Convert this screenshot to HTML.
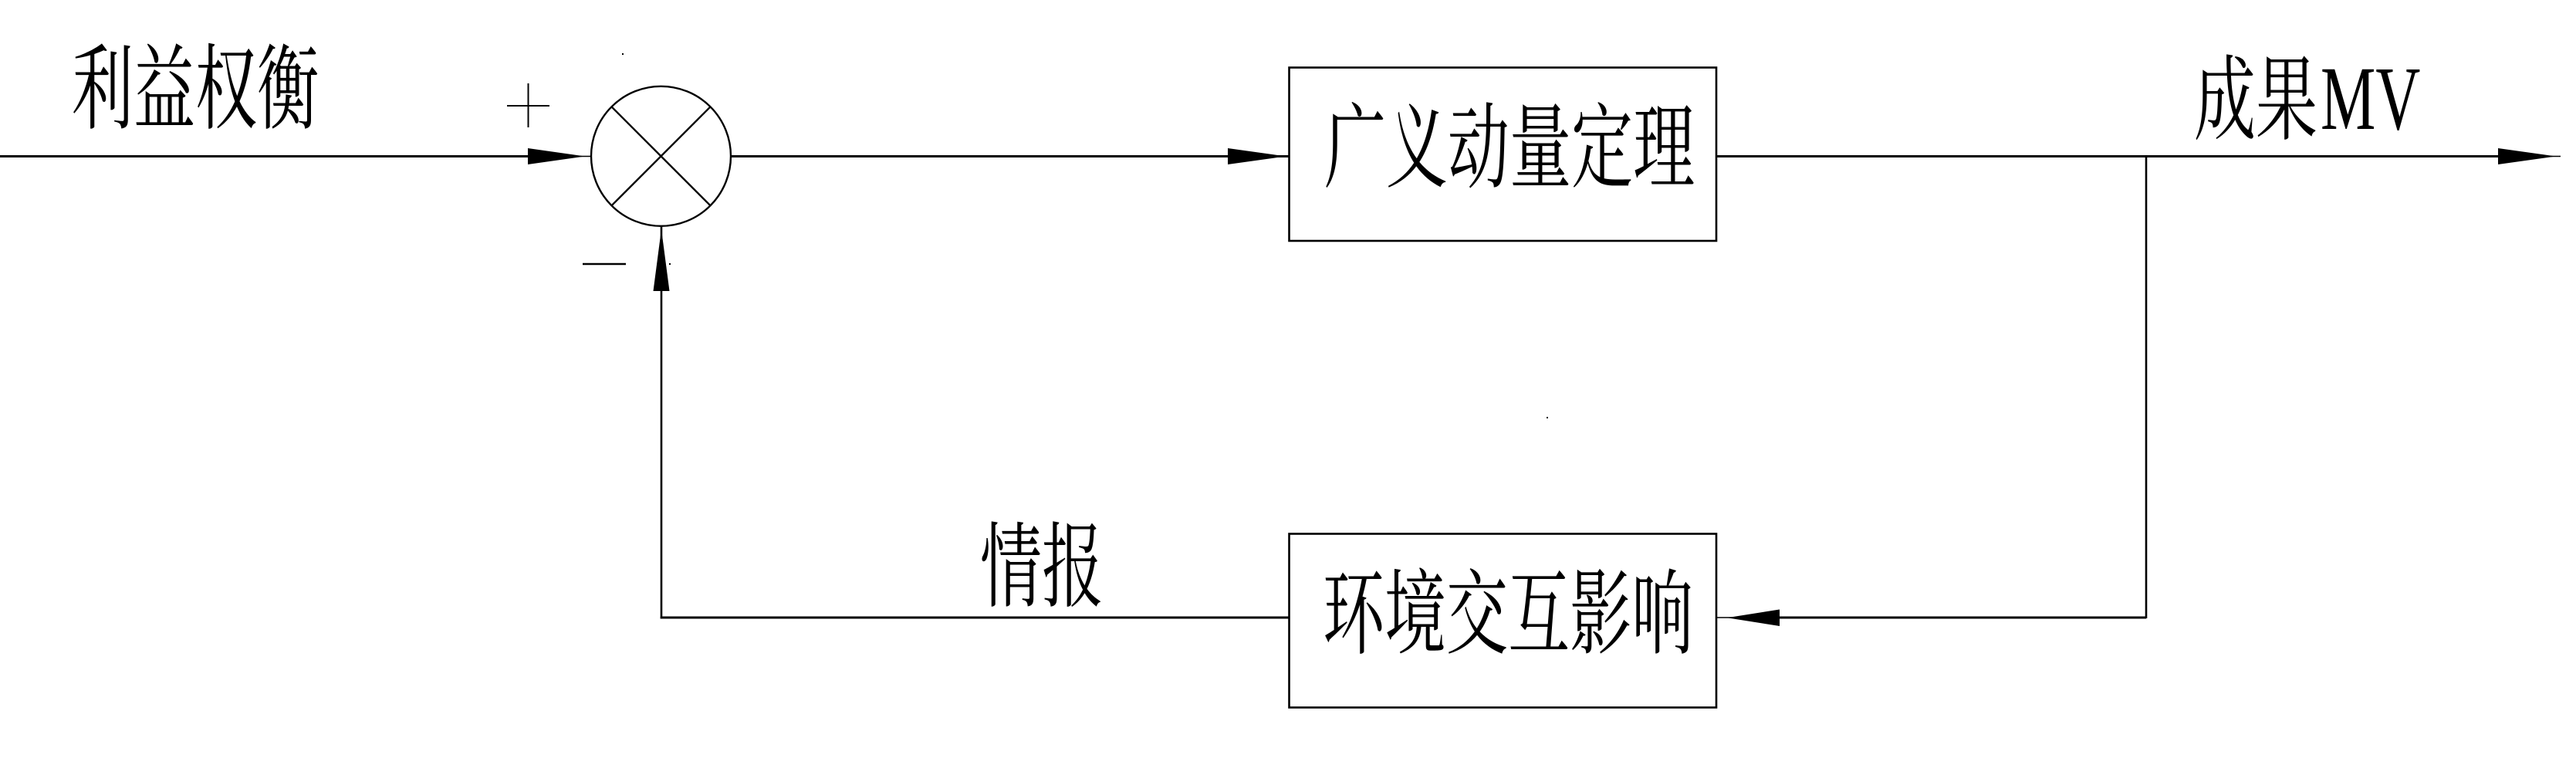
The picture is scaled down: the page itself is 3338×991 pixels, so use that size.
<!DOCTYPE html>
<html>
<head>
<meta charset="utf-8">
<style>
  html, body { margin: 0; padding: 0; background: #fff; }
  svg { display: block; }
  .cjk { font-family: "Liberation Serif", "Noto Serif CJK SC", "Noto Sans CJK SC", serif; fill: #000; }
</style>
</head>
<body>
<svg width="3338" height="991" viewBox="0 0 3338 991" xmlns="http://www.w3.org/2000/svg">
  <rect x="0" y="0" width="3338" height="991" fill="#fff"/>

  <!-- Input line and arrow into summing junction -->
  <line x1="0" y1="202.5" x2="700" y2="202.5" stroke="#000" stroke-width="3"/>
  <line x1="700" y1="202.5" x2="766" y2="202.5" stroke="#000" stroke-width="1.5"/>
  <polygon points="684,192 758,202.5 684,213" fill="#000"/>

  <!-- plus sign -->
  <line x1="657" y1="137" x2="712" y2="137" stroke="#000" stroke-width="2"/>
  <line x1="684.5" y1="108" x2="684.5" y2="165" stroke="#000" stroke-width="2"/>

  <!-- minus sign -->
  <line x1="755" y1="342" x2="811" y2="342" stroke="#000" stroke-width="2.5"/>

  <!-- summing junction circle -->
  <circle cx="856.5" cy="202.3" r="90.5" fill="none" stroke="#000" stroke-width="2.4"/>
  <line x1="792.5" y1="138.3" x2="920.5" y2="266.3" stroke="#000" stroke-width="2.4"/>
  <line x1="920.5" y1="138.3" x2="792.5" y2="266.3" stroke="#000" stroke-width="2.4"/>

  <!-- line from circle to top box -->
  <line x1="947" y1="202.5" x2="1670" y2="202.5" stroke="#000" stroke-width="3"/>
  <polygon points="1591,192 1666,202.5 1591,213" fill="#000"/>

  <!-- top box -->
  <rect x="1670.5" y="87.5" width="553.5" height="224.5" fill="none" stroke="#000" stroke-width="2.6"/>

  <!-- output line -->
  <line x1="2224" y1="202.5" x2="3240" y2="202.5" stroke="#000" stroke-width="3"/>
  <line x1="3240" y1="202.5" x2="3318" y2="202.5" stroke="#000" stroke-width="1.5"/>
  <polygon points="3237,192 3312,202.5 3237,213" fill="#000"/>

  <!-- feedback vertical on right -->
  <line x1="2781" y1="202" x2="2781" y2="801" stroke="#000" stroke-width="2.6"/>
  <!-- feedback horizontal into bottom box -->
  <line x1="2781" y1="800" x2="2300" y2="800" stroke="#000" stroke-width="3"/>
  <line x1="2300" y1="800" x2="2224" y2="800" stroke="#000" stroke-width="1.5"/>
  <polygon points="2306,789.5 2238,800.3 2306,811" fill="#000"/>

  <!-- bottom box -->
  <rect x="1670.5" y="691.5" width="553.5" height="225" fill="none" stroke="#000" stroke-width="2.6"/>

  <!-- line from bottom box back to circle -->
  <line x1="1670" y1="800" x2="855.7" y2="800" stroke="#000" stroke-width="3"/>
  <line x1="857" y1="801.5" x2="857" y2="293" stroke="#000" stroke-width="2.6"/>
  <polygon points="846.5,377 857,297 867.5,377" fill="#000"/>

  <!-- stray dots -->
  <rect x="806" y="69" width="2" height="2" fill="#000"/>
  <rect x="867" y="341" width="2" height="2" fill="#000"/>
  <rect x="2004" y="540" width="2" height="2" fill="#000"/>

  <!-- Labels -->
  <text class="cjk" font-size="120" transform="translate(93,157) scale(0.667,1)">利益权衡</text>
  <text class="cjk" font-size="120" transform="translate(1716,233) scale(0.667,1)">广义动量定理</text>
  <text class="cjk" font-size="120" transform="translate(2843,171) scale(0.667,1)">成果</text>
  <text class="cjk" font-size="118" transform="translate(3007,167) scale(0.68,1)">MV</text>
  <text class="cjk" font-size="120" transform="translate(1270,776) scale(0.667,1)">情报</text>
  <text class="cjk" font-size="120" transform="translate(1714,837) scale(0.667,1)">环境交互影响</text>
</svg>
</body>
</html>
